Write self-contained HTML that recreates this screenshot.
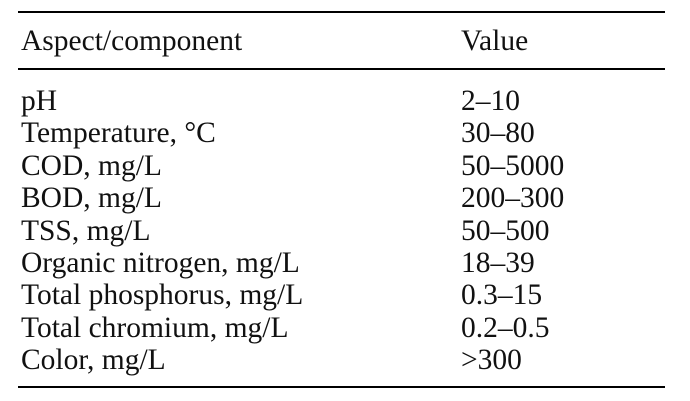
<!DOCTYPE html>
<html><head><style>
html,body{margin:0;padding:0;background:#fff;}
body{width:690px;height:401px;position:relative;overflow:hidden;font-family:"Liberation Serif",serif;font-size:29.5px;color:#111;}
.l{position:absolute;left:18px;width:647px;height:2px;background:#000;}
.t{position:absolute;line-height:32.4px;white-space:nowrap;}
.a{left:21px;}.b{left:461px;}
</style></head><body>
<div class="l" style="top:11px"></div>
<div class="l" style="top:68px"></div>
<div class="l" style="top:386px"></div>
<div class="t a" style="top:25px">Aspect/component</div>
<div class="t b" style="top:25px">Value</div>
<div style="position:absolute;top:85px;left:0;width:690px">
<div class="t a" style="top:0">pH<br>Temperature, °C<br>COD, mg/L<br>BOD, mg/L<br>TSS, mg/L<br>Organic nitrogen, mg/L<br>Total phosphorus, mg/L<br>Total chromium, mg/L<br>Color, mg/L</div>
<div class="t b" style="top:0">2–10<br>30–80<br>50–5000<br>200–300<br>50–500<br>18–39<br>0.3–15<br>0.2–0.5<br>&gt;300</div>
</div>
</body></html>
